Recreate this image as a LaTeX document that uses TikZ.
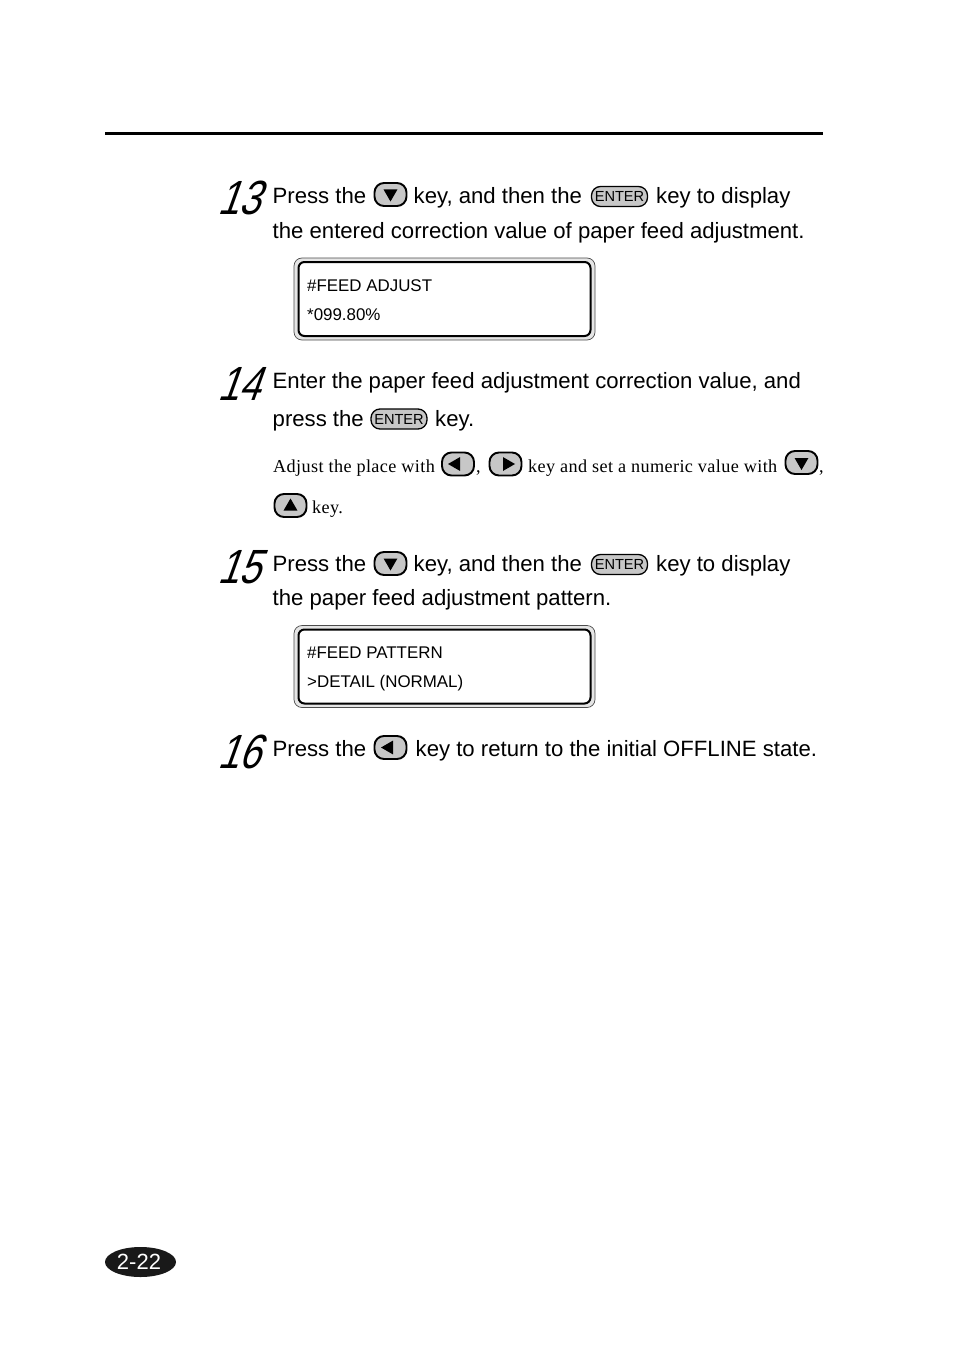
\documentclass[tikz,border=0pt]{standalone}
\usepackage{fontspec}
\setmainfont{Liberation Sans}
\newfontfamily\serifnote[LetterSpace=2.1]{Liberation Serif}
\usetikzlibrary{calc}
\usetikzlibrary{shapes.geometric}
\definecolor{keygray}{gray}{0.78}
\definecolor{lcdgray}{gray}{0.9}
\begin{document}
\begin{tikzpicture}[x=1pt,y=-1pt]
\tikzset{body/.style={anchor=base west, inner sep=0pt, font=\fontsize{22.15}{26}\selectfont}}
\tikzset{note/.style={anchor=base west, inner sep=0pt, font=\fontsize{18.2}{22}\serifnote}}
\tikzset{stepnum/.style={anchor=base west, inner sep=0pt, font=\fontsize{48}{50}\selectfont, xslant=0.36, xscale=0.8, transform shape}}
\tikzset{lcdtext/.style={anchor=base west, inner sep=0pt, font=\fontsize{16.9}{20}\selectfont}}
\tikzset{arrowkey/.style={draw=black, line width=1.9pt, fill=keygray, rounded corners=9.5pt, minimum width=32pt, minimum height=23pt, inner sep=0pt}}
\tikzset{enterkey/.style={draw=black, line width=1.3pt, fill=keygray, rounded corners=9pt, minimum width=56pt, minimum height=20pt, inner sep=0pt, text=black, font=\fontsize{14.6}{16}\selectfont}}
\tikzset{tri/.style={regular polygon, regular polygon sides=3, fill=black, inner sep=0pt, minimum size=16pt, shape border rotate=#1}}
\tikzset{lcdouter/.style={draw=black!70, line width=0.7pt, fill=lcdgray, rounded corners=8pt, minimum width=301pt, minimum height=82pt}}
\tikzset{lcdinner/.style={draw=black, line width=2pt, fill=white, rounded corners=6pt, minimum width=292pt, minimum height=74pt}}

\useasboundingbox (0,0) rectangle (954,1348);
\fill[white] (0,0) rectangle (954,1348);

\coordinate (ruleL) at (105,133.5);
\coordinate (ruleR) at (823,133.5);
\draw[line width=3pt] (ruleL) -- (ruleR);

% step 13
\node[stepnum] (n13) at (217,215) {13};
\node[body] (t13a) at (272.5,203.5) {Press the};
\node[arrowkey] (k13) at (390.5,194.5) {};
\node[tri=180] (k13t) at (390.5,193.5) {};
\node[body] (t13b) at (413.5,203.5) {key, and then the};
\node[enterkey] (e13) at (619.5,196.5) {ENTER};
\node[body] (t13c) at (656,203.5) {key to display};
\node[body] (t13d) at (272.5,238.5) {the entered correction value of paper feed adjustment.};
\node[lcdouter] (lcd1) at (444.5,299) {};
\node[lcdinner] (lcd1in) at (444.5,299) {};
\node[lcdtext] (l1a) at (307,291) {\#FEED ADJUST};
\node[lcdtext] (l1b) at (307,320) {*099.80\%};

% step 14
\node[stepnum] (n14) at (217,400) {14};
\node[body] (t14a) at (272.5,388.5) {Enter the paper feed adjustment correction value, and};
\node[body] (t14b) at (272.5,426.5) {press the};
\node[enterkey] (e14) at (399,419) {ENTER};
\node[body] (t14c) at (435,426.5) {key.};
\node[note] (a1) at (273,472) {Adjust the place with};
\node[arrowkey] (k14l) at (458,464) {};
\node[tri=90] (k14lt) at (456,464) {};
\node[note] (a2) at (476,472) {,};
\node[arrowkey] (k14r) at (505.5,464) {};
\node[tri=-90] (k14rt) at (507,464) {};
\node[note] (a3) at (528,472) {key and set a numeric value with};
\node[arrowkey] (k14d) at (801.5,462.5) {};
\node[tri=180] (k14dt) at (801.5,462) {};
\node[note] (a4) at (819,472) {,};
\node[arrowkey] (k14u) at (290.5,505.5) {};
\node[tri=0] (k14ut) at (290.5,506.5) {};
\node[note] (a5) at (312,513) {key.};

% step 15
\node[stepnum] (n15) at (217,583) {15};
\node[body] (t15a) at (272.5,571.5) {Press the};
\node[arrowkey] (k15) at (390.5,563.5) {};
\node[tri=180] (k15t) at (390.5,562.5) {};
\node[body] (t15b) at (413.5,571.5) {key, and then the};
\node[enterkey] (e15) at (619.5,564.5) {ENTER};
\node[body] (t15c) at (656,571.5) {key to display};
\node[body] (t15d) at (272.5,605.5) {the paper feed adjustment pattern.};
\node[lcdouter] (lcd2) at (444.5,666.5) {};
\node[lcdinner] (lcd2in) at (444.5,666.5) {};
\node[lcdtext] (l2a) at (307,658) {\#FEED PATTERN};
\node[lcdtext] (l2b) at (307,687) {>DETAIL (NORMAL)};

% step 16
\node[stepnum] (n16) at (217,768) {16};
\node[body] (t16a) at (272.5,756.5) {Press the};
\node[arrowkey] (k16) at (390.5,747.5) {};
\node[tri=90] (k16t) at (389,747.5) {};
\node[body] (t16b) at (415.5,756.5) {key to return to the initial OFFLINE state.};

% page number
\node[ellipse, fill=black!90, text=white, minimum width=71pt, minimum height=30pt, inner sep=0pt, font=\fontsize{22}{24}\selectfont] (pagenum) at (140.5,1262) {\hspace{-3pt}2-22};
\end{tikzpicture}
\end{document}
